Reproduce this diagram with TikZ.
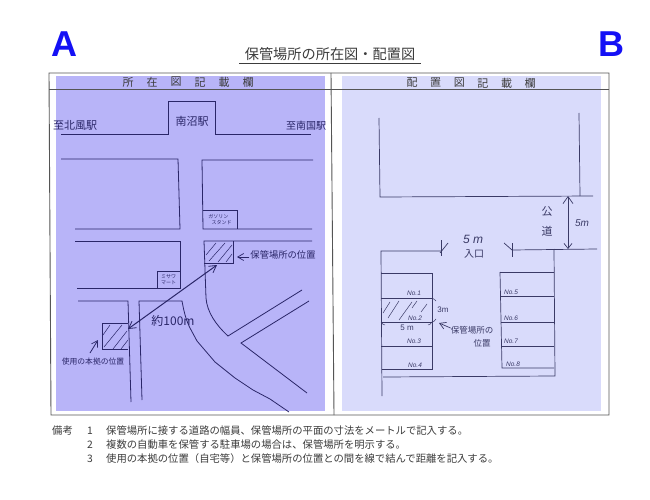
\documentclass[tikz,border=0pt]{standalone}
\usepackage{fontspec}
\setmainfont{Liberation Sans}
\newfontfamily\cjk{Noto Sans CJK JP}
\usetikzlibrary{arrows.meta}
\definecolor{panelA}{HTML}{B8B4F8}
\definecolor{panelB}{HTML}{D9DBFB}
\definecolor{inkA}{HTML}{2A2668}
\definecolor{inkB}{HTML}{3A3A66}
\definecolor{frameink}{HTML}{555555}
\definecolor{printink}{HTML}{3C3C3C}
\definecolor{letterblue}{HTML}{1410F5}
\newcommand{\fs}[1]{\fontsize{#1}{#1}\selectfont}
\tikzset{
  x=1pt,y=-1pt,
  framel/.style={draw=frameink,line width=0.9pt},
  hand/.style={draw=inkA,line width=0.8pt},
  handb/.style={draw=inkB,line width=0.7pt},
  thin hatch/.style={draw=inkA,line width=0.5pt},
  thin hatchb/.style={draw=inkB,line width=0.5pt},
  headtxt/.style={inner sep=0pt,text=printink,font=\cjk\fs{11}},
  handA/.style={inner sep=0pt,text=inkA,font=\cjk\fs{#1}},
  handB/.style={inner sep=0pt,text=inkB,font=\cjk\fs{#1}},
  noB/.style={inner sep=0pt,text=inkB,font=\itshape\fs{6.5}},
  notetxt/.style={inner sep=0pt,anchor=west,text=printink,font=\cjk\fs{10.34}},
  bigletter/.style={inner sep=0pt,text=letterblue,font=\bfseries\fs{36}},
  openarrow/.style={-{Straight Barb[length=6pt,width=7pt,line width=0.7pt]}},
  openboth/.style={{Straight Barb[length=7pt,width=8pt,line width=0.8pt]}-{Straight Barb[length=7pt,width=8pt,line width=0.8pt]}},
}
\begin{document}
\begin{tikzpicture}
\useasboundingbox (0,0) rectangle (650,500);
\fill[white] (0,0) rectangle (650,500);
% shaded panels
\fill[panelA] (56,76) rectangle (325,411);
\fill[panelB] (342,76) rectangle (601,411);
% form frame
\draw[framel] (49,73) -- (609,73) -- (609,415) -- (51,415) -- cycle;
\draw[framel] (331,73) -- (334,415);
\draw[frameink,line width=0.45pt] (49,89) -- (609,89);
% title and letters
\node[bigletter] (letterA) at (64.5,44) {A};
\node[bigletter] (letterB) at (611,44) {B};
\node[inner sep=0pt,text=printink,font=\cjk\fs{14.2}] (title) at (330,54) {保管場所の所在図・配置図};
\draw[printink,line width=0.9pt] (239,63) -- (421,63);
% column headers
\foreach \ch [count=\i] in {所,在,図,記,載,欄}
  \node[headtxt] (headA\i) at ({104+24*\i},82) {\ch};
\foreach \ch [count=\i] in {配,置,図,記,載,欄}
  \node[headtxt] (headB\i) at ({388.5+23.6*\i},83) {\ch};
% ---- location map ----
\draw[hand] (61,134) -- (168,134) -- (168,101) -- (215,101) -- (215,134) -- (311,134);
\node[handA=11] (station) at (192,121) {南沼駅};
\node[handA=11] (toN) at (75,125) {至北風駅};
\node[handA=10] (toS) at (306,126) {至南国駅};
\draw[hand] (61,159) -- (178,159) -- (180,229) -- (75,229);
\draw[hand] (313,160) -- (202,160) -- (203,229) -- (312,229);
\draw[hand] (203,210) -- (237,210) -- (237,229);
\node[handA=5,align=left] (gas) at (220,220) {ガソリン\\[1pt]\ \ \ スタンド};
\draw[hand] (75,241) -- (180,241) -- (180,288) -- (77,288);
\draw[hand] (157,271) -- (180,271);
\draw[hand] (157,271) -- (157,288);
\node[handA=5,align=center] (misawa) at (168.5,279.5) {ミサワ\\[1pt]マート};
\draw[hand] (78,301) -- (128,301) -- (131,402);
\draw[hand] (142,400) -- (139,301) -- (182,301)
  .. controls (184,312) and (186,320) .. (190,328)
  -- (197,341) -- (215,362) -- (235,378) -- (253,390) -- (270,399) -- (289,412);
\draw[hand] (312,241) -- (204,241) -- (206,298) .. controls (207,312) and (216,325) .. (228,336) -- (302,290);
\draw[hand] (309,301) -- (241,343) -- (307,393);
% storage site hatch
\draw[hand] (233,241) -- (233,263);
\draw[hand] (204,263) -- (234,263);
\draw[thin hatch] (206,255) -- (216,243);
\draw[thin hatch] (209,261) -- (225,243);
\draw[thin hatch] (218,262) -- (232,245);
\draw[thin hatch] (226,262) -- (232,254);
% home hatch
\draw[hand] (128,323) -- (102,323) -- (102,349) -- (128,349);
\draw[thin hatch] (103,335) -- (110,325);
\draw[thin hatch] (104,347) -- (122,325);
\draw[thin hatch] (113,349) -- (127,331);
\draw[thin hatch] (121,349) -- (128,340);
% arrows
\coordinate (homePt) at (128,329);
\coordinate (sitePt) at (217,265);
\draw[hand,line width=1pt,openboth] (homePt) -- (sitePt);
\node[handA=9.3] (siteLbl) at (283,255) {保管場所の位置};
\draw[hand,openarrow] (siteLbl.west) ++(-1,2) -- (237,257);
\node[handA=7.8] (homeLbl) at (93,362) {使用の本拠の位置};
\coordinate (homeTip) at (98,340);
\draw[hand,openarrow] (90,353) -- (homeTip);
\node[handA=12] (dist) at (173,321) {約100m};
% ---- layout plan ----
\draw[handb] (379,118) -- (380,197) -- (593,196);
\draw[handb] (579,113) -- (580,196);
\coordinate (roadTop) at (568,196);
\coordinate (roadBot) at (568,249);
\draw[handb,{Straight Barb[length=7pt,width=10pt,line width=0.7pt]}-{Straight Barb[length=5pt,width=8pt,line width=0.7pt]}] (roadTop) -- (roadBot);
\node[handB=11] (ko) at (547,212) {公};
\node[handB=11] (do) at (547,231) {道};
\node[handB=10,font=\itshape\fs{10}] (w5a) at (582,223) {5m};
\node[handB=11,font=\itshape\fs{12}] (w5b) at (473,239) {5 m};
\node[handB=10] (gate) at (474,254) {入口};
\draw[handb] (441,240) -- (441,256);
\draw[handb] (448,243) -- (440,253);
\draw[handb] (441,251) -- (381,251) -- (382,396);
\draw[handb] (512,243) -- (512,257);
\draw[handb] (504,243) -- (512,250);
\draw[handb] (512,250) -- (597,249);
\draw[handb] (554,249) -- (555,376) -- (383,377);
% left bays
\draw[handb] (381,273) -- (432,273) -- (432,369) -- (382,369);
\draw[handb] (381,298) -- (432,298);
\draw[handb] (381,322) -- (432,322);
\draw[handb] (381,346) -- (432,346);
% right bays
\draw[handb] (500,272) -- (554,272);
\draw[handb] (500,272) -- (502,368) -- (554,368);
\draw[handb] (500,296) -- (554,296);
\draw[handb] (501,322) -- (554,322);
\draw[handb] (501,346) -- (554,346);
\node[noB] (n1) at (414,293) {No.1};
\node[noB] (n2) at (415,318) {No.2};
\node[noB] (n3) at (414,341) {No.3};
\node[noB] (n4) at (415,365) {No.4};
\node[noB] (n5) at (511,292) {No.5};
\node[noB] (n6) at (511,318) {No.6};
\node[noB] (n7) at (511,341) {No.7};
\node[noB] (n8) at (513,364) {No.8};
\draw[thin hatchb] (383,313) -- (390,302);
\draw[thin hatchb] (388,318) -- (399,301);
\draw[thin hatchb] (399,320) -- (412,302);
\draw[thin hatchb] (412,308) -- (417,301);
\draw[thin hatchb] (421,312) -- (427,304);
% dimension marks of bay 2
\draw[thin hatchb] (432,298) .. controls (434,299) and (435,300) .. (436,301);
\draw[thin hatchb] (436,319) .. controls (435,321) and (433,322) .. (432,322);
\draw[thin hatchb] (381,322) .. controls (382,324) and (384,325) .. (385,325);
\draw[thin hatchb] (432,322) .. controls (431,324) and (429,325) .. (428,325);
\node[handB=8,font=\fs{8}] (bay3m) at (443,310) {3m};
\node[handB=8,font=\fs{8}] (bay5m) at (407,328) {5 m};
\node[handB=8.5] (bayLbl1) at (472,330) {保管場所の};
\node[handB=8.5] (bayLbl2) at (482,343) {位置};
\draw[handb,openarrow] (bayLbl1.west) ++(0,-2) -- (439,323);
% ---- notes ----
\node[notetxt] (noteHead) at (52,431) {備考};
\node[notetxt] (num1) at (87,431) {1};
\node[notetxt] (num2) at (87,444.5) {2};
\node[notetxt] (num3) at (87,459) {3};
\node[notetxt] (note1) at (106,431) {保管場所に接する道路の幅員、保管場所の平面の寸法をメートルで記入する。};
\node[notetxt] (note2) at (106,444.5) {複数の自動車を保管する駐車場の場合は、保管場所を明示する。};
\node[notetxt] (note3) at (106,459) {使用の本拠の位置（自宅等）と保管場所の位置との間を線で結んで距離を記入する。};
\end{tikzpicture}
\end{document}
